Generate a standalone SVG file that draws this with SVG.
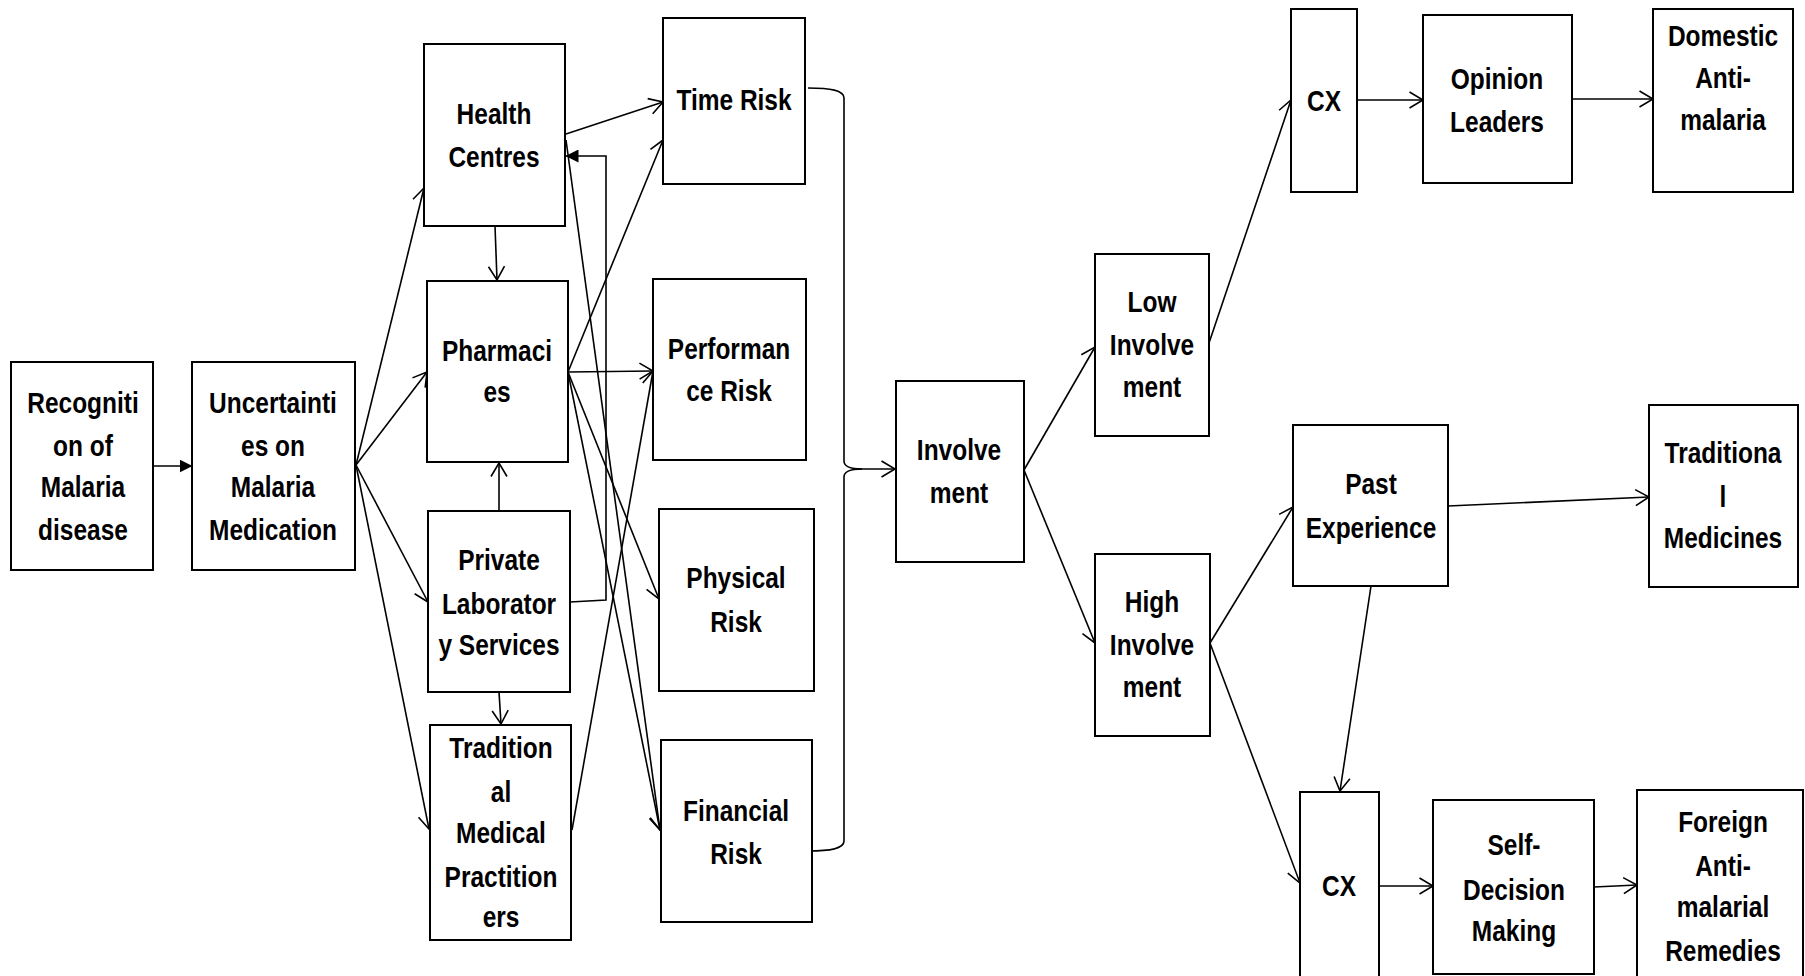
<svg xmlns="http://www.w3.org/2000/svg" width="1805" height="976" viewBox="0 0 1805 976">
<defs>
<style>
.box{fill:#fff;stroke:#000;stroke-width:2}
.t{font-family:"Liberation Sans",Arial,sans-serif;font-weight:bold;font-size:29.5px;text-anchor:middle;fill:#000}
.c{fill:none;stroke:#000;stroke-width:1.6}
.o{marker-end:url(#open)}
.f{marker-end:url(#fill)}
</style>
<marker id="open" viewBox="0 0 16 20" refX="14.5" refY="10" markerWidth="16" markerHeight="20" markerUnits="userSpaceOnUse" orient="auto">
<path d="M1,2 L14.5,10 L1,18" fill="none" stroke="#000" stroke-width="1.6"/>
</marker>
<marker id="fill" viewBox="0 0 13 13" refX="12.5" refY="6.5" markerWidth="13" markerHeight="13" markerUnits="userSpaceOnUse" orient="auto">
<path d="M0,0 L13,6.5 L0,13 Z" fill="#000"/>
</marker>
</defs>
<rect width="1805" height="976" fill="#fff"/>

<g id="connectors">
<path class="c f" d="M153,466 L192,466"/>
<path class="c o" d="M356,465 L424,188"/>
<path class="c o" d="M356,465 L427,372"/>
<path class="c o" d="M356,465 L428,602"/>
<path class="c o" d="M356,465 L429,829"/>
<path class="c o" d="M495,226 L497,280"/>
<path class="c o" d="M499,511 L499,463"/>
<path class="c o" d="M499,692 L501,724"/>
<path class="c f" d="M570,602 L606,600 L606,156 L566,156"/>
<path class="c o" d="M566,134 L663,102"/>
<path class="c o" d="M568,372 L663,140"/>
<path class="c o" d="M568,372 L653,371"/>
<path class="c o" d="M568,372 L659,599"/>
<path class="c o" d="M568,372 L660,830"/>
<path class="c o" d="M566,140 L660,830"/>
<path class="c o" d="M572,830 L653,371"/>
<path class="c" d="M808,88 C830,88 844,90 844,98 L844,461 C844,466 849,469 862,469"/>
<path class="c" d="M808,851 C830,851 844,849 844,841 L844,477 C844,472 849,469 862,469"/>
<path class="c o" d="M862,469 L895,469"/>
<path class="c o" d="M1024,470 L1095,347"/>
<path class="c o" d="M1024,470 L1095,643"/>
<path class="c o" d="M1209,343 L1291,100"/>
<path class="c o" d="M1357,100 L1423,100"/>
<path class="c o" d="M1572,99 L1653,99"/>
<path class="c o" d="M1210,643 L1293,507"/>
<path class="c o" d="M1210,643 L1300,883"/>
<path class="c o" d="M1448,506 L1649,497"/>
<path class="c o" d="M1371,586 L1340,791"/>
<path class="c o" d="M1379,886 L1433,886"/>
<path class="c o" d="M1594,887 L1637,885"/>
</g>

<g id="recognition">
<rect class="box" x="11" y="362" width="142" height="208"/>
<text class="t" transform="translate(83 0) scale(0.83 1)"><tspan x="0" y="413">Recogniti</tspan><tspan x="0" y="456">on of</tspan><tspan x="0" y="497">Malaria</tspan><tspan x="0" y="540">disease</tspan></text>
</g>
<g id="uncertainties">
<rect class="box" x="192" y="362" width="163" height="208"/>
<text class="t" transform="translate(273 0) scale(0.83 1)"><tspan x="0" y="413">Uncertainti</tspan><tspan x="0" y="456">es on</tspan><tspan x="0" y="497">Malaria</tspan><tspan x="0" y="540">Medication</tspan></text>
</g>
<g id="health-centres">
<rect class="box" x="424" y="44" width="141" height="182"/>
<text class="t" transform="translate(494 0) scale(0.83 1)"><tspan x="0" y="124">Health</tspan><tspan x="0" y="167">Centres</tspan></text>
</g>
<g id="pharmacies">
<rect class="box" x="427" y="281" width="141" height="181"/>
<text class="t" transform="translate(497 0) scale(0.83 1)"><tspan x="0" y="361">Pharmaci</tspan><tspan x="0" y="402">es</tspan></text>
</g>
<g id="private-lab">
<rect class="box" x="428" y="511" width="142" height="181"/>
<text class="t" transform="translate(499 0) scale(0.83 1)"><tspan x="0" y="570">Private</tspan><tspan x="0" y="614">Laborator</tspan><tspan x="0" y="655">y Services</tspan></text>
</g>
<g id="traditional-practitioners">
<rect class="box" x="430" y="725" width="141" height="215"/>
<text class="t" transform="translate(501 0) scale(0.83 1)"><tspan x="0" y="758">Tradition</tspan><tspan x="0" y="802">al</tspan><tspan x="0" y="843">Medical</tspan><tspan x="0" y="887">Practition</tspan><tspan x="0" y="927">ers</tspan></text>
</g>
<g id="time-risk">
<rect class="box" x="663" y="18" width="142" height="166"/>
<text class="t" transform="translate(734 0) scale(0.83 1)"><tspan x="0" y="110">Time Risk</tspan></text>
</g>
<g id="performance-risk">
<rect class="box" x="653" y="279" width="153" height="181"/>
<text class="t" transform="translate(729 0) scale(0.83 1)"><tspan x="0" y="359">Performan</tspan><tspan x="0" y="401">ce Risk</tspan></text>
</g>
<g id="physical-risk">
<rect class="box" x="659" y="509" width="155" height="182"/>
<text class="t" transform="translate(736 0) scale(0.83 1)"><tspan x="0" y="588">Physical</tspan><tspan x="0" y="632">Risk</tspan></text>
</g>
<g id="financial-risk">
<rect class="box" x="661" y="740" width="151" height="182"/>
<text class="t" transform="translate(736 0) scale(0.83 1)"><tspan x="0" y="821">Financial</tspan><tspan x="0" y="864">Risk</tspan></text>
</g>
<g id="involvement">
<rect class="box" x="896" y="381" width="128" height="181"/>
<text class="t" transform="translate(959 0) scale(0.83 1)"><tspan x="0" y="460">Involve</tspan><tspan x="0" y="503">ment</tspan></text>
</g>
<g id="low-involvement">
<rect class="box" x="1095" y="254" width="114" height="182"/>
<text class="t" transform="translate(1152 0) scale(0.83 1)"><tspan x="0" y="312">Low</tspan><tspan x="0" y="355">Involve</tspan><tspan x="0" y="397">ment</tspan></text>
</g>
<g id="high-involvement">
<rect class="box" x="1095" y="554" width="115" height="182"/>
<text class="t" transform="translate(1152 0) scale(0.83 1)"><tspan x="0" y="612">High</tspan><tspan x="0" y="655">Involve</tspan><tspan x="0" y="697">ment</tspan></text>
</g>
<g id="cx-top">
<rect class="box" x="1291" y="9" width="66" height="183"/>
<text class="t" transform="translate(1324 0) scale(0.83 1)"><tspan x="0" y="111">CX</tspan></text>
</g>
<g id="opinion-leaders">
<rect class="box" x="1423" y="15" width="149" height="168"/>
<text class="t" transform="translate(1497 0) scale(0.83 1)"><tspan x="0" y="89">Opinion</tspan><tspan x="0" y="132">Leaders</tspan></text>
</g>
<g id="domestic-antimalaria">
<rect class="box" x="1653" y="9" width="140" height="183"/>
<text class="t" transform="translate(1723 0) scale(0.83 1)"><tspan x="0" y="46">Domestic</tspan><tspan x="0" y="88">Anti-</tspan><tspan x="0" y="130">malaria</tspan></text>
</g>
<g id="past-experience">
<rect class="box" x="1293" y="425" width="155" height="161"/>
<text class="t" transform="translate(1371 0) scale(0.83 1)"><tspan x="0" y="494">Past</tspan><tspan x="0" y="538">Experience</tspan></text>
</g>
<g id="traditional-medicines">
<rect class="box" x="1649" y="405" width="149" height="182"/>
<text class="t" transform="translate(1723 0) scale(0.83 1)"><tspan x="0" y="463">Traditiona</tspan><tspan x="0" y="507">l</tspan><tspan x="0" y="548">Medicines</tspan></text>
</g>
<g id="cx-bottom">
<rect class="box" x="1300" y="792" width="79" height="200"/>
<text class="t" transform="translate(1339 0) scale(0.83 1)"><tspan x="0" y="896">CX</tspan></text>
</g>
<g id="self-decision">
<rect class="box" x="1433" y="800" width="161" height="174"/>
<text class="t" transform="translate(1514 0) scale(0.83 1)"><tspan x="0" y="855">Self-</tspan><tspan x="0" y="900">Decision</tspan><tspan x="0" y="941">Making</tspan></text>
</g>
<g id="foreign-remedies">
<rect class="box" x="1637" y="790" width="166" height="200"/>
<text class="t" transform="translate(1723 0) scale(0.83 1)"><tspan x="0" y="832">Foreign</tspan><tspan x="0" y="876">Anti-</tspan><tspan x="0" y="917">malarial</tspan><tspan x="0" y="961">Remedies</tspan></text>
</g>
</svg>
